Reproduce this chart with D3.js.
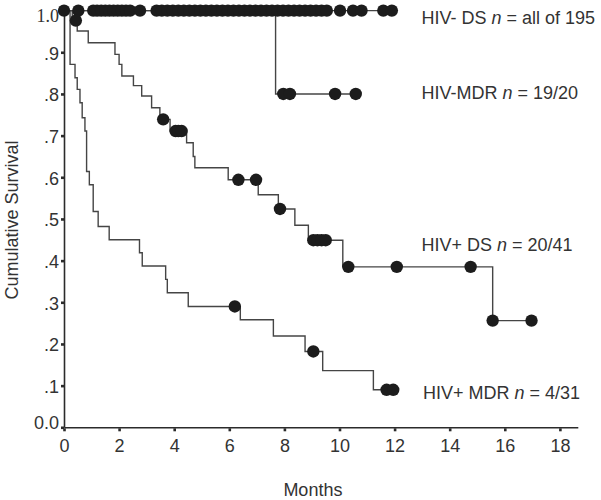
<!DOCTYPE html>
<html>
<head>
<meta charset="utf-8">
<script src="https://cdn.jsdelivr.net/npm/d3@7"></script>
<style>
  html, body { margin: 0; padding: 0; background: #fff; }
  svg { display: block; font-family: "Liberation Sans", Arial, Helvetica, sans-serif; }
</style>
</head>
<body>
<svg id="chart" width="601" height="500"></svg>
<script>
// ---- data (months, cumulative survival) ----
const xTicks = [0, 2, 4, 6, 8, 10, 12, 14, 16, 18];
const yTicks = [0, 0.1, 0.2, 0.3, 0.4, 0.5, 0.6, 0.7, 0.8, 0.9, 1.0];
const yTickLabels = ["0.0", ".1", ".2", ".3", ".4", ".5", ".6", ".7", ".8", ".9", "1.0"];

const seriesNames = ["HIV- DS", "HIV-MDR", "HIV+ DS", "HIV+ MDR"];
const seriesCounts = ["all of 195", "19/20", "20/41", "4/31"];

// step functions: [time of event, survival after event]
const hivNegDsSteps = [[0, 1.0]];
const hivNegDsEnd = 11.9;
const hivNegDsCensored = [0, 0.52, 1.06, 1.2, 1.35, 1.5, 1.65, 1.8, 1.95, 2.1, 2.25, 2.4, 2.76,
  3.36, 3.55, 3.75, 3.95, 4.15, 4.35, 4.55, 4.75, 4.95, 5.15, 5.35, 5.55, 5.75, 5.95,
  6.15, 6.35, 6.55, 6.75, 6.95, 7.15, 7.35, 7.55, 7.75, 7.95, 8.15, 8.35, 8.55, 8.75,
  8.95, 9.15, 9.35, 9.54, 10.02, 10.49, 10.8, 11.59, 11.9];

const hivNegMdrSteps = [[0, 1.0], [7.68, 0.8]];
const hivNegMdrEnd = 10.59;
const hivNegMdrCensored = [7.96, 8.2, 9.84, 10.59];

const hivPosDsSteps = [[0, 1.0], [0.3, 0.976], [0.48, 0.951], [0.88, 0.923], [1.85, 0.895],
  [2.0, 0.871], [2.1, 0.843], [2.52, 0.820], [2.82, 0.795], [3.18, 0.767], [3.48, 0.739],
  [3.85, 0.711], [4.45, 0.683], [4.69, 0.650], [4.75, 0.623], [5.96, 0.594], [7.05, 0.558],
  [7.78, 0.524], [8.38, 0.485], [8.87, 0.449], [10.12, 0.385], [15.56, 0.256]];
const hivPosDsEnd = 16.97;
const hivPosDsCensored = [0.43, 3.6, 4.05, 4.15, 4.27, 6.33, 6.97, 7.84, 9.05, 9.2, 9.35, 9.5,
  10.32, 12.08, 14.76, 15.56, 16.97];

const hivPosMdrSteps = [[0, 1.0], [0.22, 0.871], [0.4, 0.839], [0.48, 0.811], [0.58, 0.779],
  [0.66, 0.743], [0.76, 0.711], [0.82, 0.614], [0.92, 0.582], [1.06, 0.518], [1.24, 0.482],
  [1.64, 0.450], [2.74, 0.419], [2.84, 0.387], [3.69, 0.355], [3.75, 0.323], [4.51, 0.290],
  [6.4, 0.258], [7.6, 0.219], [8.75, 0.182], [9.39, 0.136], [11.23, 0.090]];
const hivPosMdrEnd = 11.95;
const hivPosMdrCensored = [6.2, 9.05, 11.71, 11.95];

// ---- drawing ----
const svg = d3.select("#chart");
const x = d3.scaleLinear().domain([0, 18.65]).range([64, 577.8]);
const y = d3.scaleLinear().domain([0, 1]).range([427.3, 10.6]);

const ink = "#2b2b2b";
const lineCol = "#454545";

function level(steps, t) {
  let s = 1;
  for (const [tt, v] of steps) if (tt <= t) s = v;
  return s;
}

const curves = [
  { steps: hivNegDsSteps, end: hivNegDsEnd, cens: hivNegDsCensored },
  { steps: hivNegMdrSteps, end: hivNegMdrEnd, cens: hivNegMdrCensored },
  { steps: hivPosDsSteps, end: hivPosDsEnd, cens: hivPosDsCensored },
  { steps: hivPosMdrSteps, end: hivPosMdrEnd, cens: hivPosMdrCensored }
];

const line = d3.line().x(d => x(d[0])).y(d => y(d[1])).curve(d3.curveStepAfter);

const gCurves = svg.append("g");
curves.forEach(c => {
  const pts = c.steps.concat([[c.end, c.steps[c.steps.length - 1][1]]]);
  gCurves.append("path")
    .attr("d", line(pts))
    .attr("fill", "none")
    .attr("stroke", lineCol)
    .attr("stroke-width", 1.4);
});

// axes
const yAxis = d3.axisLeft(y).tickValues(yTicks).tickSize(3).tickSizeOuter(0).tickPadding(2)
  .tickFormat((d, i) => yTickLabels[i]);
const gy = svg.append("g").attr("transform", `translate(${x(0)},0)`).call(yAxis);
gy.select(".domain").attr("stroke", ink).attr("stroke-width", 1.6);
gy.selectAll(".tick line").attr("stroke", ink).attr("stroke-width", 2.6);
gy.selectAll(".tick text")
  .attr("fill", "#333").attr("font-size", 18)
  .attr("font-family", "'Liberation Sans', Arial, sans-serif")
  .attr("dy", (d, i) => i === 0 ? "0.05em" : (i === yTicks.length - 1 ? "0.6em" : "0.38em"));
gy.selectAll(".tick text").filter((d, i) => i === yTicks.length - 1)
  .attr("font-family", "'Liberation Serif', 'Times New Roman', serif");

const xAxis = d3.axisBottom(x).tickValues(xTicks).tickSize(4).tickSizeOuter(0).tickPadding(8)
  .tickFormat(d3.format("d"));
const gx = svg.append("g").attr("transform", `translate(0,${y(0)})`).call(xAxis);
gx.select(".domain").attr("stroke", ink).attr("stroke-width", 1.6);
gx.selectAll(".tick line").attr("stroke", ink).attr("stroke-width", 2.6).attr("y1", 1);
gx.selectAll(".tick text").attr("fill", "#333").attr("font-size", 18)
  .attr("font-family", "'Liberation Sans', Arial, sans-serif");

// censor markers
const gMarks = svg.append("g");
curves.forEach(c => {
  gMarks.selectAll(null).data(c.cens).enter().append("circle")
    .attr("cx", t => x(t))
    .attr("cy", t => y(level(c.steps, t)))
    .attr("r", 6.2)
    .attr("fill", "#1c1c1c");
});

// axis titles
svg.append("text")
  .attr("x", (x(0) + x(18.65)) / 2 - 8).attr("y", 496)
  .attr("text-anchor", "middle").attr("font-size", 18).attr("fill", "#333")
  .text("Months");
svg.append("text")
  .attr("transform", "translate(18,220) rotate(-90)")
  .attr("text-anchor", "middle").attr("font-size", 18).attr("fill", "#333")
  .text("Cumulative Survival");

// series labels
const labelPos = [[421.5, 24], [421.5, 99], [421.5, 251], [423, 399]];
seriesNames.forEach((name, i) => {
  const t = svg.append("text")
    .attr("x", labelPos[i][0]).attr("y", labelPos[i][1])
    .attr("font-size", 18).attr("fill", "#333");
  t.append("tspan").text(name + " ");
  t.append("tspan").attr("font-style", "italic").text("n");
  t.append("tspan").text(" = " + seriesCounts[i]);
});
</script>
</body>
</html>
